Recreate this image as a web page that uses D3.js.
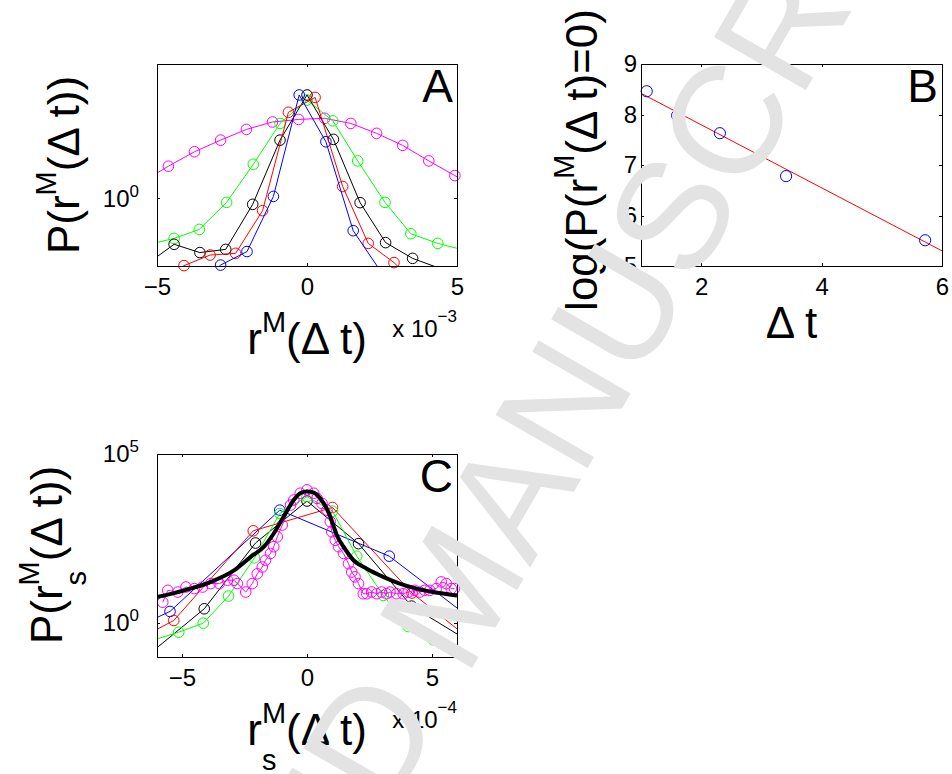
<!DOCTYPE html>
<html>
<head>
<meta charset="utf-8">
<script src="https://cdn.jsdelivr.net/npm/d3@7"></script>
<style>
body{margin:0;background:#fff;}
svg{display:block;}
text{font-family:'Liberation Sans',Arial,Helvetica,sans-serif;}
</style>
</head>
<body>
<div class="c-svg"></div>
<script>
//DATA
//-------------------------------------------------------------------------

//panel A : x in units of 10^-3, y = P (log axis)
const aMagentaX = [-5.49, -4.62, -3.75, -2.88, -2.02, -1.15, -0.28, 0.59, 1.46, 2.32, 3.19, 4.06, 4.93, 5.8];
const aMagentaY = [1.29, 1.64, 2.05, 2.45, 2.89, 3.24, 3.37, 3.43, 3.17, 2.72, 2.26, 1.78, 1.42, 1.12];
const aGreenX = [-5.3, -4.43, -3.59, -2.68, -1.79, -0.9, 0.0, 0.86, 1.69, 2.6, 3.46, 4.36, 5.25];
const aGreenY = [0.49, 0.54, 0.62, 0.94, 1.69, 3.17, 4.54, 3.3, 1.78, 0.94, 0.58, 0.5, 0.45];
const aBlackX = [-5.3, -4.43, -3.57, -2.71, -1.81, -0.9, 0.0, 0.88, 1.77, 2.62, 3.52, 4.4];
const aBlackY = [0.368, 0.493, 0.434, 0.456, 0.912, 2.45, 4.91, 2.48, 0.936, 0.506, 0.397, 0.342];
const aRedX = [-4.97, -4.1, -3.23, -2.38, -1.48, -0.62, 0.27, 1.19, 2.04, 2.9, 3.77];
const aRedY = [0.25, 0.355, 0.418, 0.429, 0.828, 3.76, 4.73, 1.2, 0.5, 0.372, 0.25];
const aBlueX = [-3.77, -2.88, -2.0, -1.12, -0.26, 0.63, 1.54, 2.43];
const aBlueY = [0.25, 0.358, 0.441, 1.03, 4.91, 2.39, 0.608, 0.331];

//panel B : log(P(r=0)) vs delta t, with linear fit
const bPointsX = [1.095, 1.6, 2.31, 3.41, 5.72];
const bPointsY = [8.46, 7.98, 7.63, 6.78, 5.51];
const bFitX = [1, 6];
const bFitY = [8.42, 5.3];

//panel C : x in units of 10^-4, y = P (log axis)
const cBlueX = [-9.87, -5.48, -1.09, 3.29, 7.68];
const cBlueY = [0.069, 2.22, 2188, 95.5, 0.316];
const cRedX = [-8.51, -5.33, -2.15, 1.02, 4.2, 7.38];
const cRedY = [0.069, 1.2, 537, 2630, 7.76, 0.105];
const cBlackX = [-6.17, -4.11, -2.06, 0, 2.06, 4.18, 6.2];
const cBlackY = [0.148, 2.66, 234, 4074, 224, 3.19, 0.389];
const cGreenX = [-6.15, -5.13, -4.15, -3.14, -2.1, -1.09, 0, 1.02, 1.99, 3.05, 4.05, 5.04, 6.06];
const cGreenY = [0.316, 0.541, 1.0, 6.31, 85.1, 1738, 5495, 2042, 95.5, 6.61, 0.794, 0.324, 0.178];
const cMagentaX = [-5.77, -5.57, -5.17, -4.84, -4.51, -4.18, -3.85, -3.51, -3.18, -2.92, -2.79, -2.45, -2.19, -1.99,
	-1.79, -1.66, -1.46, -1.33, -1.19, -0.99, -0.66, -0.53, -0.27, 0, 0.27, 0.4, 0.6, 0.8, 0.93, 0.99, 1.13, 1.26,
	1.46, 1.66, 1.79, 1.92, 2.06, 2.25, 2.39, 2.59, 2.79, 2.98, 3.18, 3.32, 3.58, 3.85, 4.05, 4.31, 4.51, 4.71,
	4.91, 5.17, 5.37, 5.57, 5.77, 5.9];
const cMagentaY = [4.17, 9.33, 8.32, 11.7, 10.5, 11.7, 14.8, 14.8, 18.6, 18.6, 14.8, 8.32, 14.8, 28.8,
	45.7, 72.4, 115, 182, 355, 794, 3090, 4365, 6918, 8710, 6918, 4898, 3467, 2188, 1000, 501, 282, 182,
	115, 57.5, 32.4, 23.4, 14.8, 7.41, 7.41, 8.32, 7.41, 8.32, 7.41, 8.32, 7.41, 7.41, 8.32, 9.33, 8.32, 9.33,
	9.33, 10.5, 16.6, 14.8, 10.5, 10.5];
const cFitX = [-6.0, -4.91, -3.85, -2.92, -2.25, -1.72, -1.33, -0.93, -0.53, -0.27, 0, 0.27, 0.53, 0.93, 1.19,
	1.46, 1.86, 2.39, 3.05, 3.71, 4.38, 5.04, 6.0];
const cFitY = [5.89, 9.33, 16.6, 36.3, 91.2, 182, 447, 1413, 4365, 6918, 7762, 7244, 4898, 1413, 398,
	182, 72.4, 40.7, 23.4, 14.8, 10.5, 8.32, 6.61];

//tick values
const aXTicks = [-5, 0, 5];
const aYTicks = [1];
const bXTicks = [2, 4, 6];
const bYTicks = [5, 6, 7, 8, 9];
const cXTicks = [-5, 0, 5];
const cYTicks = [1, 1e5];


//INITIALISATION
//-------------------------------------------------------------------------
const FONT = "'Liberation Sans', Arial, Helvetica, sans-serif";

const opts = {width: 952, height: 774};

const panelA = {left: 157, top: 64, width: 300, height: 202};
const panelB = {left: 641, top: 64, width: 301, height: 202};
const panelC = {left: 157, top: 454, width: 300, height: 203};

const svg = d3.select(".c-svg")
	.append("svg")
	.attr("width", opts.width)
	.attr("height", opts.height);

svg.append("rect").attr("width", opts.width).attr("height", opts.height).attr("fill", "#fff");

const zip = (xs, ys) => xs.map((v, i) => [v, ys[i]]);

//scales
const xA = d3.scaleLinear().domain([-5, 5]).range([panelA.left, panelA.left + panelA.width]);
const yA = d3.scaleLog().domain([0.353, 7.91]).range([panelA.top + panelA.height, panelA.top]);
const xB = d3.scaleLinear().domain([1, 6]).range([panelB.left, panelB.left + panelB.width]);
const yB = d3.scaleLinear().domain([5, 9]).range([panelB.top + panelB.height, panelB.top]);
const xC = d3.scaleLinear().domain([-6, 6]).range([panelC.left, panelC.left + panelC.width]);
const yC = d3.scaleLog().domain([0.1, 1e5]).range([panelC.top + panelC.height, panelC.top]);


//HELPERS
//-------------------------------------------------------------------------
function clipFor(id, p){
	svg.append("clipPath").attr("id", id)
		.append("rect")
		.attr("x", p.left).attr("y", p.top)
		.attr("width", p.width).attr("height", p.height);
	return `url(#${id})`;
}

function drawSeries(p, clip, x, y, xs, ys, color, r){
	const data = zip(xs, ys);
	const line = d3.line().x(d => x(d[0])).y(d => y(d[1]));
	svg.append("path")
		.datum(data)
		.attr("d", line)
		.attr("clip-path", clip)
		.attr("fill", "none")
		.attr("stroke", color)
		.attr("stroke-width", 1);
	//markers only for points inside the axis limits
	const [x0, x1] = x.domain();
	const [y0, y1] = y.domain();
	const inside = data.filter(d => d[0] >= x0 - 1e-9 && d[0] <= x1 + 1e-9 && d[1] >= y0 * 0.999 && d[1] <= y1 * 1.001);
	svg.append("g").selectAll("circle")
		.data(inside)
		.join("circle")
		.attr("cx", d => x(d[0]))
		.attr("cy", d => y(d[1]))
		.attr("r", r)
		.attr("fill", "none")
		.attr("stroke", color)
		.attr("stroke-width", 1);
}

function styleAxis(g){
	g.attr("font-family", FONT).attr("font-size", 24);
	g.select(".domain").remove();
	g.selectAll(".tick line").attr("shape-rendering", "crispEdges");
}

function drawAxes(p, x, y, xt, yt, logY, yPad){
	const bottom = p.top + p.height, right = p.left + p.width;
	svg.append("g").attr("transform", `translate(0,${bottom})`)
		.call(d3.axisBottom(x).tickValues(xt).tickSizeInner(-3).tickSizeOuter(0).tickPadding(12).tickFormat(d3.format("d")))
		.call(styleAxis);
	svg.append("g").attr("transform", `translate(0,${p.top})`)
		.call(d3.axisTop(x).tickValues(xt).tickSizeInner(-3).tickSizeOuter(0).tickFormat(""))
		.call(styleAxis);
	const yl = svg.append("g").attr("transform", `translate(${p.left},0)`)
		.call(d3.axisLeft(y).tickValues(yt).tickSizeInner(-3).tickSizeOuter(0).tickPadding(yPad)
			.tickFormat(logY ? () => "" : d3.format("d")))
		.call(styleAxis);
	if(logY){
		yl.selectAll(".tick text").each(function(d){
			const t = d3.select(this);
			t.append("tspan").text("10");
			t.append("tspan").attr("dy", -10).attr("font-size", 17).text(Math.round(Math.log10(d)));
		});
	}
	svg.append("g").attr("transform", `translate(${right},0)`)
		.call(d3.axisRight(y).tickValues(yt).tickSizeInner(-3).tickSizeOuter(0).tickFormat(""))
		.call(styleAxis);
	//box
	svg.append("rect")
		.attr("x", p.left).attr("y", p.top)
		.attr("width", p.width).attr("height", p.height)
		.attr("fill", "none").attr("stroke", "#000").attr("stroke-width", 1)
		.attr("shape-rendering", "crispEdges");
}

//rich label: parts = [{t, size, dx, dy}]
function richLabel(x, y, rot, parts, size){
	const t = svg.append("text")
		.attr("transform", `translate(${x},${y}) rotate(${rot})`)
		.attr("text-anchor", "middle")
		.attr("font-family", FONT)
		.attr("font-size", size);
	parts.forEach(p => {
		t.append("tspan")
			.attr("font-size", p.size || size)
			.attr("dx", p.dx || 0)
			.attr("dy", p.dy || 0)
			.text(p.t);
	});
	return t;
}

function textWidth(str, size){
	const t = svg.append("text").attr("font-family", FONT).attr("font-size", size).text(str);
	const w = t.node().getComputedTextLength();
	t.remove();
	return w;
}

function panelLetter(p, letter){
	svg.append("text")
		.attr("x", p.left + p.width - 4)
		.attr("y", p.top + 38)
		.attr("text-anchor", "end")
		.attr("font-family", FONT)
		.attr("font-size", 46)
		.text(letter);
}

function exponentLabel(p, exp){
	const t = svg.append("text")
		.attr("x", p.left + p.width)
		.attr("y", p.top + p.height + 71)
		.attr("text-anchor", "end")
		.attr("font-family", FONT)
		.attr("font-size", 24);
	t.append("tspan").text("x 10");
	t.append("tspan").attr("font-size", 17).attr("dy", -15).text(exp);
}


//PANEL A
//-------------------------------------------------------------------------
const clipA = clipFor("clipA", panelA);
drawSeries(panelA, clipA, xA, yA, aMagentaX, aMagentaY, "#ff00ff", 5.3);
drawSeries(panelA, clipA, xA, yA, aGreenX, aGreenY, "#00ff00", 5.3);
drawSeries(panelA, clipA, xA, yA, aBlackX, aBlackY, "#000000", 5.3);
drawSeries(panelA, clipA, xA, yA, aRedX, aRedY, "#ff0000", 5.3);
drawSeries(panelA, clipA, xA, yA, aBlueX, aBlueY, "#0000ff", 5.3);
drawAxes(panelA, xA, yA, aXTicks, aYTicks, true, 18);
panelLetter(panelA, "A");
exponentLabel(panelA, "\u22123");

richLabel(307, 354, 0, [{t: "r"}, {t: "M", size: 29, dy: -22}, {t: "(\u0394 t)", dy: 22}], 44);
richLabel(79, 165, -90, [{t: "P(r"}, {t: "M", size: 29, dy: -23}, {t: "(\u0394 t))", dy: 23}], 44);


//PANEL B
//-------------------------------------------------------------------------
const clipB = clipFor("clipB", panelB);
svg.append("path")
	.datum(zip(bFitX, bFitY))
	.attr("d", d3.line().x(d => xB(d[0])).y(d => yB(d[1])))
	.attr("clip-path", clipB)
	.attr("fill", "none")
	.attr("stroke", "#ff0000")
	.attr("stroke-width", 1);
svg.append("g").selectAll("circle")
	.data(zip(bPointsX, bPointsY))
	.join("circle")
	.attr("cx", d => xB(d[0]))
	.attr("cy", d => yB(d[1]))
	.attr("r", 5.6)
	.attr("fill", "none")
	.attr("stroke", "#0000ff")
	.attr("stroke-width", 1);
drawAxes(panelB, xB, yB, bXTicks, bYTicks, false, 4);
panelLetter(panelB, "B");

richLabel(791.5, 338, 0, [{t: "\u0394 t"}], 44);
richLabel(597, 160, -90, [{t: "log(P(r"}, {t: "M", size: 29, dy: -23}, {t: "(\u0394 t)=0)", dy: 23}], 44);


//PANEL C
//-------------------------------------------------------------------------
const clipC = clipFor("clipC", panelC);
drawSeries(panelC, clipC, xC, yC, cBlueX, cBlueY, "#0000ff", 5.3);
drawSeries(panelC, clipC, xC, yC, cRedX, cRedY, "#ff0000", 5.3);
drawSeries(panelC, clipC, xC, yC, cBlackX, cBlackY, "#000000", 5.3);
drawSeries(panelC, clipC, xC, yC, cGreenX, cGreenY, "#00ff00", 5.3);
drawSeries(panelC, clipC, xC, yC, cMagentaX, cMagentaY, "#ff00ff", 5.3);
svg.append("path")
	.datum(zip(cFitX, cFitY))
	.attr("d", d3.line().x(d => xC(d[0])).y(d => yC(d[1])).curve(d3.curveMonotoneX))
	.attr("clip-path", clipC)
	.attr("fill", "none")
	.attr("stroke", "#000")
	.attr("stroke-width", 4);
drawAxes(panelC, xC, yC, cXTicks, cYTicks, true, 18);
panelLetter(panelC, "C");
exponentLabel(panelC, "\u22124");

const wM = textWidth("M", 29), wS = textWidth("s", 29);
richLabel(307, 745, 0, [{t: "r"}, {t: "M", size: 29, dy: -22}, {t: "s", size: 29, dx: -wM, dy: 47},
	{t: "(\u0394 t)", dx: wM - wS, dy: -25}], 44);
richLabel(62, 555, -90, [{t: "P(r"}, {t: "M", size: 29, dy: -23}, {t: "s", size: 29, dx: -wM, dy: 47},
	{t: "(\u0394 t))", dx: wM - wS, dy: -24}], 44);


//WATERMARK
//-------------------------------------------------------------------------
svg.append("text")
	.attr("transform", "translate(452,592) rotate(-60)")
	.attr("text-anchor", "middle")
	.attr("dy", "0.36em")
	.attr("font-family", FONT)
	.attr("font-size", 154)
	.attr("fill", "#e3e3e3")
	.text("ACCEPTED MANUSCRIPT");
</script>
</body>
</html>
